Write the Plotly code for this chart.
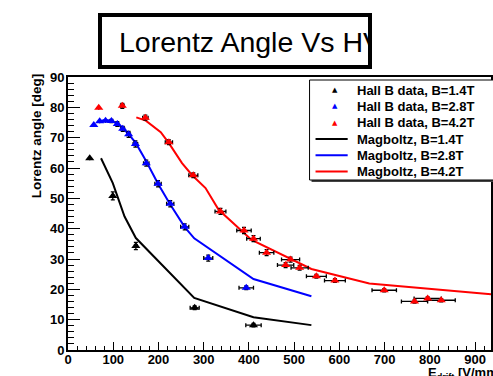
import plotly.graph_objects as go

# ---- data ----
# Hall B data (markers with x/y errors)
b14_x    = [48, 99, 150, 280, 410]
b14_y    = [63.2, 50.8, 34.3, 13.9, 8.2]
b14_xerr = [0, 2, 3, 10, 17]
b14_yerr = [0, 1.3, 1.2, 0.6, 0.6]

b28_x    = [57, 70, 83, 96, 109, 121, 134, 149, 173, 199, 226, 258, 310, 394]
b28_y    = [74.2, 75.4, 75.6, 75.5, 74.5, 72.9, 71.1, 67.9, 61.6, 54.8, 48.2, 40.6, 30.3, 20.5]
b28_xerr = [0, 0, 0, 0, 3, 4, 4, 5, 6, 7, 8, 9, 10, 16]
b28_yerr = [0, 0, 0, 0.5, 0.8, 0.8, 1, 1, 1, 1, 1, 1, 1, 0.6]

b42_x    = [68, 120, 171, 223, 277, 337, 389, 410, 439, 481, 492, 512, 549, 590, 699, 766, 795, 825]
b42_y    = [79.9, 80.5, 76.6, 68.5, 57.6, 45.7, 39.4, 36.7, 32.1, 28.0, 29.8, 27.1, 24.3, 22.9, 19.7, 16.0, 17.0, 16.4]
b42_xerr = [0, 4, 6, 8, 10, 12, 16, 15, 16, 18, 20, 19, 22, 23, 27, 29, 30, 31]
b42_yerr = [0, 0.8, 0.8, 0.8, 0.8, 1, 1, 1, 1, 0.8, 0.8, 0.8, 0.6, 0.6, 0.5, 0.5, 0.5, 0.5]

# Magboltz simulation curves
mb14_x = [73, 99, 125, 150, 279, 410, 538]
mb14_y = [63.2, 55.0, 44.0, 36.9, 17.2, 10.8, 8.2]

mb28_x = [68, 80, 95, 110, 125, 135, 150, 172, 199, 225, 258, 279, 410, 538]
mb28_y = [75.3, 75.8, 75.7, 74.5, 72.5, 71.0, 68.2, 62.5, 54.8, 48.2, 40.5, 36.8, 23.4, 17.7]

mb42_x = [151, 172, 205, 223, 252, 274, 304, 333, 377, 406, 538, 666, 935]
mb42_y = [76.7, 75.6, 71.8, 68.2, 61.6, 57.7, 53.4, 46.2, 40.2, 36.3, 26.7, 21.9, 18.4]

data_names = ["Hall B data, B=1.4T", "Hall B data, B=2.8T", "Hall B data, B=4.2T"]
mb_names   = ["Magboltz, B=1.4T", "Magboltz, B=2.8T", "Magboltz, B=4.2T"]
colors     = ["#000000", "#0000ff", "#ff0000"]

W, H = 493, 376
L, R, T, B = 68, 0, 77, 26
pw, ph = W - L - R, H - T - B


def px(x):  # page pixel -> paper x
    return (x - L) / pw


def py(y):  # page pixel -> paper y
    return (H - B - y) / ph


fig = go.Figure()

for xs, ys, c, n in zip([mb14_x, mb28_x, mb42_x], [mb14_y, mb28_y, mb42_y], colors, mb_names):
    fig.add_trace(go.Scatter(x=xs, y=ys, mode="lines", name=n,
                             line=dict(color=c, width=2), showlegend=False))

for xs, ys, ex, ey, c, n in zip([b14_x, b28_x, b42_x], [b14_y, b28_y, b42_y],
                                [b14_xerr, b28_xerr, b42_xerr], [b14_yerr, b28_yerr, b42_yerr],
                                colors, data_names):
    fig.add_trace(go.Scatter(
        x=xs, y=ys, mode="markers", name=n, showlegend=False,
        marker=dict(symbol="triangle-up", size=8, color=c),
        error_x=dict(type="data", array=ex, color="black", thickness=1.3, width=2),
        error_y=dict(type="data", array=ey, color="black", thickness=1.3, width=2),
    ))

bold = dict(family="Liberation Sans, Arial", size=13, color="black", weight="bold")

shapes = []
annotations = []

# title: text, then the frame drawn over it, then a white patch hiding the overflow
annotations.append(dict(
    xref="paper", yref="paper", x=px(117), y=py(42), xanchor="left", yanchor="middle",
    text="Lorentz Angle Vs HV", showarrow=False,
    font=dict(family="Liberation Sans, Arial", size=28.5, color="black"),
))
annotations.append(dict(
    xref="paper", yref="paper", x=px(372), y=py(41), xanchor="left", yanchor="middle",
    text=" ", showarrow=False, width=16, height=44, borderpad=0,
    bgcolor="white", font=dict(size=10),
))
annotations.append(dict(
    xref="paper", yref="paper", x=px(98), y=py(13), xanchor="left", yanchor="top",
    text=" ", showarrow=False, width=266, height=48, borderwidth=4, borderpad=0,
    bordercolor="black", bgcolor="rgba(0,0,0,0)", font=dict(size=10),
))

# axis titles
annotations.append(dict(
    xref="paper", yref="paper", x=px(36), y=py(136), xanchor="center", yanchor="middle",
    text="Lorentz angle [deg]", textangle=-90, showarrow=False,
    font=dict(bold, size=13.5),
))
annotations.append(dict(
    xref="paper", yref="paper", x=px(428), y=py(363), xanchor="left", yanchor="top",
    text="E<sub>drift</sub> [V/mm]", showarrow=False, font=bold,
))

# legend box (ROOT style, with shadow)
lx0, lx1, ly0, ly1 = 310.7, 497, 80, 180
shapes.append(dict(type="rect", xref="paper", yref="paper",
                   x0=px(lx0 + 2), x1=px(lx1 + 2), y0=py(ly0 + 2), y1=py(ly1 + 2),
                   fillcolor="#444444", line=dict(width=0)))
shapes.append(dict(type="rect", xref="paper", yref="paper",
                   x0=px(lx0), x1=px(lx1), y0=py(ly0), y1=py(ly1),
                   fillcolor="white", line=dict(color="black", width=1)))
rows = [90, 106.3, 122.6, 139, 155.3, 171.6]
for i, (n, c) in enumerate(zip(data_names, colors)):
    annotations.append(dict(xref="paper", yref="paper", x=px(336), y=py(rows[i]),
                            text="▲", showarrow=False, xanchor="center", yanchor="middle",
                            font=dict(family="DejaVu Sans", size=7, color=c)))
    annotations.append(dict(xref="paper", yref="paper", x=px(356.7), y=py(rows[i]),
                            text=n, showarrow=False, xanchor="left", yanchor="middle", font=bold))
for j, (n, c) in enumerate(zip(mb_names, colors)):
    r = rows[j + 3]
    shapes.append(dict(type="line", xref="paper", yref="paper",
                       x0=px(316.7), x1=px(349), y0=py(r), y1=py(r),
                       line=dict(color=c, width=2)))
    annotations.append(dict(xref="paper", yref="paper", x=px(356.7), y=py(r),
                            text=n, showarrow=False, xanchor="left", yanchor="middle", font=bold))

fig.update_layout(
    width=W, height=H, autosize=False,
    margin=dict(l=L, r=R, t=T, b=B, pad=0),
    paper_bgcolor="white", plot_bgcolor="white",
    showlegend=False,
    shapes=shapes, annotations=annotations,
    xaxis=dict(range=[0, 935], showgrid=False, zeroline=False,
               showline=True, linecolor="black", linewidth=2, mirror=True,
               ticks="inside", ticklen=8, tickcolor="black", tickwidth=1,
               dtick=100, tick0=0, tickfont=bold, ticklabelstandoff=-4,
               minor=dict(ticks="inside", ticklen=4, dtick=20, tickcolor="black")),
    yaxis=dict(range=[0, 90], showgrid=False, zeroline=False,
               showline=True, linecolor="black", linewidth=2, mirror=True,
               ticks="inside", ticklen=12, tickcolor="black", tickwidth=1,
               dtick=10, tick0=0, tickfont=bold, ticklabelstandoff=-1,
               minor=dict(ticks="inside", ticklen=6, dtick=2, tickcolor="black")),
)

fig.write_html("out.html", config={"displayModeBar": False},
               post_script="document.body.style.margin='0';")
